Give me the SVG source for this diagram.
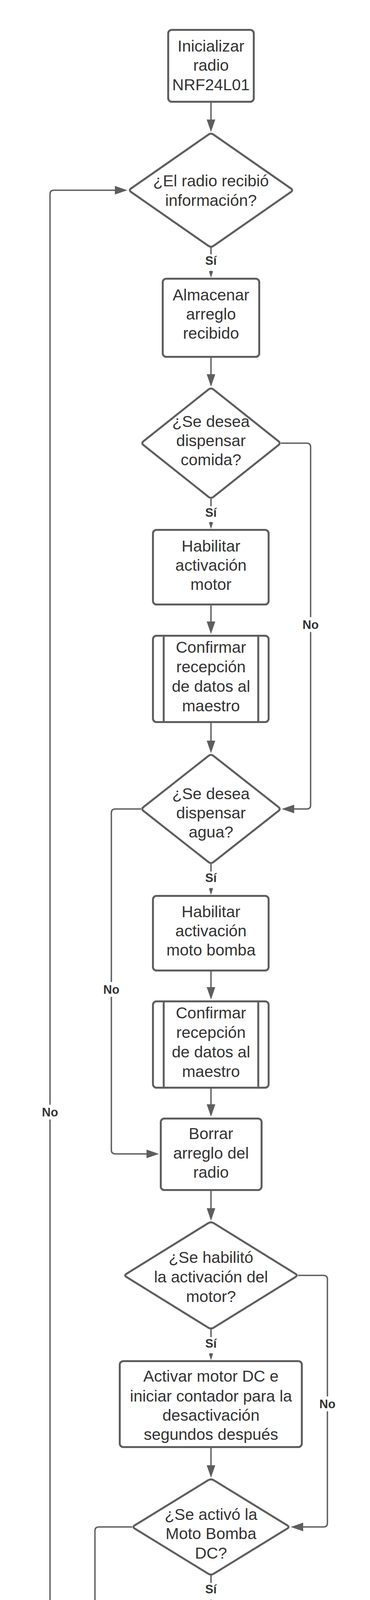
<svg xmlns="http://www.w3.org/2000/svg" width="947" height="5693" viewBox="0 0 947 5693">
<style>
.shape{fill:#fff;stroke:#5e5e5e;stroke-width:5;stroke-linejoin:round}
.conn{fill:none;stroke:#5e5e5e;stroke-width:3.5}
.t{font-family:"Liberation Sans",Arial,sans-serif;font-size:41px;fill:#333;text-anchor:middle}
.lbl{font-family:"Liberation Sans",Arial,sans-serif;font-size:31px;font-weight:bold;fill:#333;text-anchor:middle}
.bg{fill:#fff}
</style>
<defs>
<marker id="ab" markerUnits="userSpaceOnUse" markerWidth="32" markerHeight="22" viewBox="0 0 32 22" refX="0" refY="11" orient="auto"><path d="M0,0L32,11L0,22z" fill="#5e5e5e"/></marker>
<marker id="as" markerUnits="userSpaceOnUse" markerWidth="17" markerHeight="11" viewBox="0 0 17 11" refX="0" refY="5.5" orient="auto"><path d="M0,0L17,5.5L0,11z" fill="#5e5e5e"/></marker>
</defs>
<rect width="947" height="5693" fill="#fff"/>
<g id="connectors">
<path class="conn" d="M540 263V306" marker-end="url(#ab)"/>
<path class="conn" d="M540 634V651"/><path class="conn" d="M540 693V694" marker-end="url(#as)"/>
<path class="conn" d="M540 916V958" marker-end="url(#ab)"/>
<path class="conn" d="M540 1277V1296"/><path class="conn" d="M540 1336V1337" marker-end="url(#as)"/>
<path class="conn" d="M540 1550V1591" marker-end="url(#ab)"/>
<path class="conn" d="M540 1851V1896" marker-end="url(#ab)"/>
<path class="conn" d="M540 2212V2231"/><path class="conn" d="M540 2273V2274" marker-end="url(#as)"/>
<path class="conn" d="M540 2487V2527" marker-end="url(#ab)"/>
<path class="conn" d="M540 2787V2827" marker-end="url(#ab)"/>
<path class="conn" d="M540 3049V3093" marker-end="url(#ab)"/>
<path class="conn" d="M540 3403V3423"/><path class="conn" d="M540 3464V3465" marker-end="url(#as)"/>
<path class="conn" d="M540 3707V3751" marker-end="url(#ab)"/>
<path class="conn" d="M540 4033V4052"/><path class="conn" d="M540 4095V4096" marker-end="url(#as)"/>
<path class="conn" d="M540 4337V4382" marker-end="url(#ab)"/>
<path class="conn" d="M540 4758V4777"/><path class="conn" d="M540 4819V4820" marker-end="url(#as)"/>
<path class="conn" d="M540 4977V5024" marker-end="url(#ab)"/>
<path class="conn" d="M540 5399V5417"/><path class="conn" d="M540 5459V5460" marker-end="url(#as)"/>
<path class="conn" d="M719 1134.5H785Q795 1134.5 795 1144.5V2061Q795 2071 785 2071H753" marker-end="url(#ab)"/>
<path class="conn" d="M361 2071H295Q285 2071 285 2081V2944Q285 2954 295 2954H375" marker-end="url(#ab)"/>
<path class="conn" d="M318 5228H138Q128 5228 128 5218V497Q128 487 138 487H294" marker-end="url(#ab)"/>
<path class="conn" d="M763 3265H828Q838 3265 838 3275V3899Q838 3909 828 3909H776" marker-end="url(#ab)"/>
<path class="conn" d="M338 3909H253Q243 3909 243 3919V4577Q243 4587 253 4587H284" marker-end="url(#ab)"/>
<path class="conn" d="M762 4587H827Q837 4587 837 4597V5218Q837 5228 827 5228H795" marker-end="url(#ab)"/>
<path class="conn" d="M389 5547H143Q133 5547 133 5537V5270" marker-end="url(#ab)"/>
<g id="labels">
<text class="lbl" x="540" y="678">Sí</text>
<text class="lbl" x="540" y="1323">Sí</text>
<text class="lbl" x="540" y="2258">Sí</text>
<text class="lbl" x="540" y="3450">Sí</text>
<text class="lbl" x="540" y="4079">Sí</text>
<text class="lbl" x="540" y="4804">Sí</text>
<text class="lbl" x="540" y="5444">Sí</text>
<rect class="bg" x="770" y="1580" width="50" height="38"/><text class="lbl" x="795" y="1610">No</text>
<rect class="bg" x="260" y="2514" width="50" height="38"/><text class="lbl" x="285" y="2544">No</text>
<rect class="bg" x="103" y="2828" width="50" height="38"/><text class="lbl" x="128" y="2858">No</text>
<rect class="bg" x="813" y="3575" width="50" height="38"/><text class="lbl" x="838" y="3605">No</text>
<rect class="bg" x="218" y="4215" width="50" height="38"/><text class="lbl" x="243" y="4245">No</text>
<rect class="bg" x="812" y="4886" width="50" height="38"/><text class="lbl" x="837" y="4916">No</text>
</g>
</g>
<g id="n1"><rect class="shape" x="430.5" y="76.5" width="219" height="184" rx="9"/>
<text class="t"><tspan x="540" y="132">Inicializar</tspan><tspan x="540" y="181">radio</tspan><tspan x="540" y="231">NRF24L01</tspan></text></g>
<g id="d1"><path class="shape" d="M546.6,344.6 L744.4,482.4 Q751,487 744.4,491.6 L546.6,629.4 Q540,634 533.4,629.4 L335.6,491.6 Q329,487 335.6,482.4 L533.4,344.6 Q540,340 546.6,344.6 Z"/>
<text class="t"><tspan x="540" y="477">¿El radio recibió</tspan><tspan x="540" y="527">información?</tspan></text></g>
<g id="n2"><rect class="shape" x="416.5" y="713.5" width="247" height="200" rx="9"/>
<text class="t"><tspan x="540" y="769">Almacenar</tspan><tspan x="540" y="818">arreglo</tspan><tspan x="540" y="867">recibido</tspan></text></g>
<g id="d2"><path class="shape" d="M546.3,997 L712.7,1129.5 Q719,1134.5 712.7,1139.5 L546.3,1272 Q540,1277 533.7,1272 L367.3,1139.5 Q361,1134.5 367.3,1129.5 L533.7,997 Q540,992 546.3,997 Z"/>
<text class="t"><tspan x="540" y="1093">¿Se desea</tspan><tspan x="540" y="1142">dispensar</tspan><tspan x="540" y="1191">comida?</tspan></text></g>
<g id="n3"><rect class="shape" x="391.5" y="1356.5" width="296" height="191" rx="9"/>
<text class="t"><tspan x="540" y="1412">Habilitar</tspan><tspan x="540" y="1461">activación</tspan><tspan x="540" y="1510">motor</tspan></text></g>
<g id="n4"><rect class="shape" x="391.5" y="1627.5" width="296" height="221" rx="9"/>
<path class="shape" d="M419 1627.5V1848.5M661 1627.5V1848.5"/>
<text class="t"><tspan x="540" y="1671">Confirmar</tspan><tspan x="540" y="1721">recepción</tspan><tspan x="540" y="1771">de datos al</tspan><tspan x="540" y="1821">maestro</tspan></text></g>
<g id="d3"><path class="shape" d="M546.3,1935 L712.7,2066 Q719,2071 712.7,2076 L546.3,2207 Q540,2212 533.7,2207 L367.3,2076 Q361,2071 367.3,2066 L533.7,1935 Q540,1930 546.3,1935 Z"/>
<text class="t"><tspan x="540" y="2046">¿Se desea</tspan><tspan x="540" y="2095">dispensar</tspan><tspan x="540" y="2144">agua?</tspan></text></g>
<g id="n5"><rect class="shape" x="391.5" y="2293.5" width="296" height="191" rx="9"/>
<text class="t"><tspan x="540" y="2348">Habilitar</tspan><tspan x="540" y="2397">activación</tspan><tspan x="540" y="2446">moto bomba</tspan></text></g>
<g id="n6"><rect class="shape" x="391.5" y="2563.5" width="296" height="221" rx="9"/>
<path class="shape" d="M419 2563.5V2784.5M661 2563.5V2784.5"/>
<text class="t"><tspan x="540" y="2607">Confirmar</tspan><tspan x="540" y="2657">recepción</tspan><tspan x="540" y="2707">de datos al</tspan><tspan x="540" y="2757">maestro</tspan></text></g>
<g id="n7"><rect class="shape" x="411.5" y="2863.5" width="258" height="183" rx="9"/>
<text class="t"><tspan x="540" y="2916">Borrar</tspan><tspan x="540" y="2966">arreglo del</tspan><tspan x="540" y="3015">radio</tspan></text></g>
<g id="d4"><path class="shape" d="M546.8,3131.2 L756.2,3260.8 Q763,3265 756.2,3269.2 L546.8,3398.8 Q540,3403 533.2,3398.8 L323.8,3269.2 Q317,3265 323.8,3260.8 L533.2,3131.2 Q540,3127 546.8,3131.2 Z"/>
<text class="t"><tspan x="540" y="3233">¿Se habilitó</tspan><tspan x="540" y="3283">la activación del</tspan><tspan x="540" y="3333">motor?</tspan></text></g>
<g id="n8"><rect class="shape" x="306.5" y="3484.5" width="466" height="220" rx="9"/>
<text class="t"><tspan x="540" y="3537">Activar motor DC e</tspan><tspan x="540" y="3588">iniciar contador para la</tspan><tspan x="540" y="3637">desactivación</tspan><tspan x="540" y="3686">segundos después</tspan></text></g>
<g id="d5"><path class="shape" d="M546.8,3789.2 L735.2,3904.8 Q742,3909 735.2,3913.2 L546.8,4028.8 Q540,4033 533.2,4028.8 L344.8,3913.2 Q338,3909 344.8,3904.8 L533.2,3789.2 Q540,3785 546.8,3789.2 Z"/>
<text class="t"><tspan x="540" y="3891">¿Se activó la</tspan><tspan x="540" y="3940">Moto Bomba</tspan><tspan x="540" y="3990">DC?</tspan></text></g>
<g id="n9"><rect class="shape" x="306.5" y="4115.5" width="466" height="219" rx="9"/>
<text class="t"><tspan x="540" y="4167">Activar moto bomba</tspan><tspan x="540" y="4217">DC e iniciar contador</tspan><tspan x="540" y="4266">para la desactivación</tspan><tspan x="540" y="4316">segundos después</tspan></text></g>
<g id="d6"><path class="shape" d="M546.3,4420.9 L755.7,4582.1 Q762,4587 755.7,4591.9 L546.3,4753.1 Q540,4758 533.7,4753.1 L324.3,4591.9 Q318,4587 324.3,4582.1 L533.7,4420.9 Q540,4416 546.3,4420.9 Z"/>
<text class="t"><tspan x="540" y="4516">¿Se ha</tspan><tspan x="540" y="4566">habilitado la</tspan><tspan x="540" y="4616">desactivación del</tspan><tspan x="540" y="4666">motor DC?</tspan></text></g>
<g id="n10"><rect class="shape" x="391.5" y="4839.5" width="296" height="135" rx="9"/>
<text class="t"><tspan x="540" y="4892">Desactivar</tspan><tspan x="540" y="4942">motor</tspan></text></g>
<g id="d7"><path class="shape" d="M546.3,5061.9 L755.7,5223.1 Q762,5228 755.7,5232.9 L546.3,5394.1 Q540,5399 533.7,5394.1 L324.3,5232.9 Q318,5228 324.3,5223.1 L533.7,5061.9 Q540,5057 546.3,5061.9 Z"/>
<text class="t"><tspan x="540" y="5134">¿Se ha</tspan><tspan x="540" y="5185">habilitado la</tspan><tspan x="540" y="5235">desactivación de la</tspan><tspan x="540" y="5285">moto bomba</tspan><tspan x="540" y="5336">DC?</tspan></text></g>
<g id="n11"><rect class="shape" x="391.5" y="5479.5" width="296" height="135" rx="9"/>
<text class="t"><tspan x="540" y="5532">Desactivar</tspan><tspan x="540" y="5582">moto bomba</tspan></text></g>
</svg>
